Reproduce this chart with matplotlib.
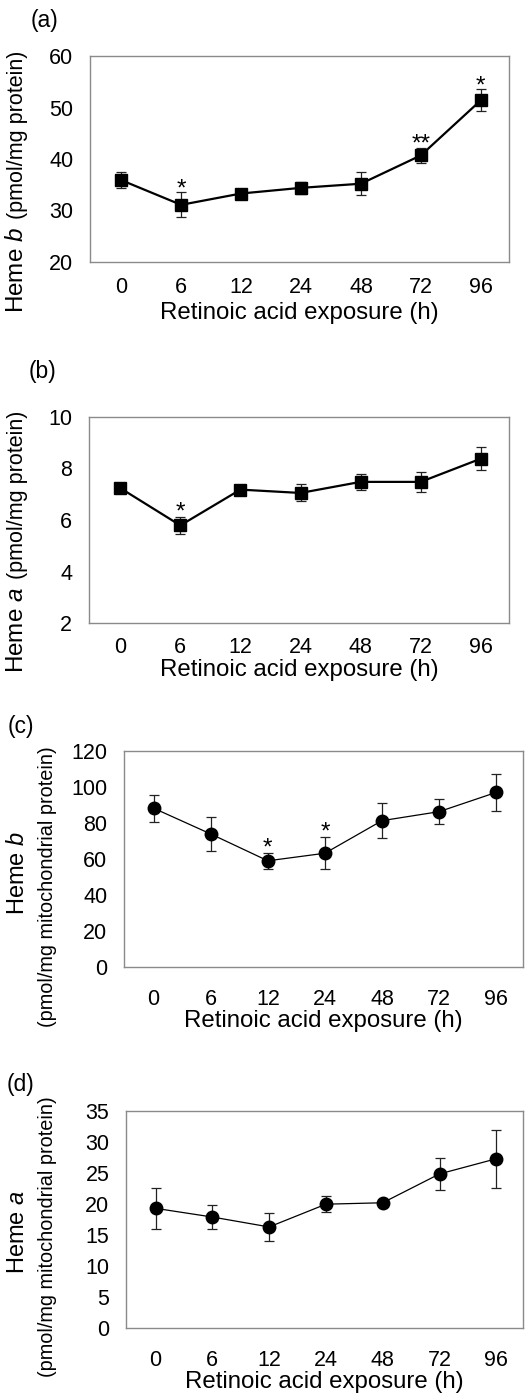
import numpy as np
import matplotlib
matplotlib.use("Agg")
import matplotlib.pyplot as plt

plt.rcParams['font.family'] = ['Liberation Sans', 'DejaVu Sans']
plt.rcParams['mathtext.fontset'] = 'custom'
plt.rcParams['mathtext.rm'] = 'Liberation Sans'
plt.rcParams['mathtext.it'] = 'Liberation Sans:italic'

hours = ["0", "6", "12", "24", "48", "72", "96"]

# (a) heme b, pmol/mg protein
heme_b_cell = [35.9, 31.1, 33.3, 34.4, 35.2, 40.7, 51.4]
heme_b_cell_err = [1.6, 2.4, 0.5, 1.1, 2.2, 1.4, 2.1]
stars_a = {1: "*", 5: "**", 6: "*"}

# (b) heme a, pmol/mg protein
heme_a_cell = [7.24, 5.79, 7.18, 7.05, 7.48, 7.48, 8.38]
heme_a_cell_err = [0.1, 0.33, 0.1, 0.33, 0.3, 0.38, 0.45]
stars_b = {1: "*"}

# (c) heme b, pmol/mg mitochondrial protein
heme_b_mito = [88.2, 73.9, 59.0, 63.2, 81.3, 86.3, 97.0]
heme_b_mito_err = [7.4, 9.2, 4.3, 8.8, 9.6, 7.0, 10.4]
stars_c = {2: "*", 3: "*"}

# (d) heme a, pmol/mg mitochondrial protein
heme_a_mito = [19.3, 17.9, 16.3, 19.97, 20.2, 24.85, 27.3]
heme_a_mito_err = [3.3, 1.9, 2.2, 1.25, 0.2, 2.55, 4.7]

W, H = 529, 1395
fig = plt.figure(figsize=(W / 100, H / 100), dpi=100)

def px_axes(left, top, right, bottom):
    return fig.add_axes([left / W, 1 - bottom / H, (right - left) / W, (bottom - top) / H])

def panel(ax, vals, errs, ylim, yticks, marker, ms, lw, xpad, stars, star_off):
    x = np.arange(len(hours))
    ax.errorbar(x, vals, yerr=errs, color="black", marker=marker, ms=ms, lw=lw,
                ecolor="#222222", elinewidth=0.9, capsize=3.8, capthick=0.9, zorder=3)
    for i, s in stars.items():
        ax.text(i, vals[i] + errs[i] + star_off, s, ha="center", va="bottom", fontsize=17.5)
    ax.set_xlim(-0.52, 6.47)
    ax.set_ylim(*ylim)
    ax.set_yticks(yticks)
    ax.set_xticks(x)
    ax.set_xticklabels(hours)
    ax.tick_params(length=0, labelsize=15.5)
    ax.tick_params(axis="x", pad=xpad)
    ax.tick_params(axis="y", pad=12)
    for sp in ax.spines.values():
        sp.set_color("#8a8a8a")
        sp.set_linewidth(1.0)

xlab = "Retinoic acid exposure (h)"

ax_a = px_axes(90, 56, 509, 262)
panel(ax_a, heme_b_cell, heme_b_cell_err, (20, 60), [20, 30, 40, 50, 60], "s", 8, 1.6, 11, stars_a, -1.5)
ax_a.set_xlabel(xlab, fontsize=17.3, labelpad=3)

ax_b = px_axes(89, 417, 509, 623)
panel(ax_b, heme_a_cell, heme_a_cell_err, (2, 10), [2, 4, 6, 8, 10], "s", 8, 1.6, 10, stars_b, -0.25)
ax_b.set_xlabel(xlab, fontsize=17.3, labelpad=1)

ax_c = px_axes(124, 751, 523, 967)
panel(ax_c, heme_b_mito, heme_b_mito_err, (0, 120), [0, 20, 40, 60, 80, 100, 120], "o", 9, 0.9, 16, stars_c, -3.5)
ax_c.set_xlabel(xlab, fontsize=17.3, labelpad=0)

ax_d = px_axes(126, 1111, 523, 1328)
panel(ax_d, heme_a_mito, heme_a_mito_err, (0, 35), [0, 5, 10, 15, 20, 25, 30, 35], "o", 9, 0.9, 16, {}, 0)
ax_d.set_xlabel(xlab, fontsize=17.3, labelpad=0)

# panel letters
for lab, xp, yp in [("(a)", 44, 20), ("(b)", 42, 372), ("(c)", 21, 727), ("(d)", 21, 1085)]:
    fig.text(xp / W, 1 - yp / H, lab, ha="center", va="center", fontsize=16.5)

# y labels: big "Heme x" followed by smaller unit text
renderer = fig.canvas.get_renderer()

def inline_ylabel(xr, yc, big, small):
    t1 = fig.text(xr / W, 0, big, rotation=90, ha="right", va="bottom", fontsize=17.5)
    t2 = fig.text(xr / W, 0, small, rotation=90, ha="right", va="bottom", fontsize=15.5)
    h1 = t1.get_window_extent(renderer).height
    h2 = t2.get_window_extent(renderer).height
    gap = 8
    y0 = (H - yc) - (h1 + gap + h2) / 2
    t1.set_y(y0 / H)
    t2.set_y((y0 + h1 + gap) / H)

inline_ylabel(28, 182, "Heme $\\mathit{b}$", "(pmol/mg protein)")
inline_ylabel(28, 542, "Heme $\\mathit{a}$", "(pmol/mg protein)")

for big, yc in [("Heme $\\mathit{b}$", 873), ("Heme $\\mathit{a}$", 1232)]:
    fig.text(18 / W, 1 - yc / H, big, rotation=90, ha="center", va="center", fontsize=17)
for yc in [887, 1237]:
    fig.text(48 / W, 1 - yc / H, "(pmol/mg mitochondrial protein)", rotation=90,
             ha="center", va="center", fontsize=14.3)

fig.savefig("out.png", dpi=100)
